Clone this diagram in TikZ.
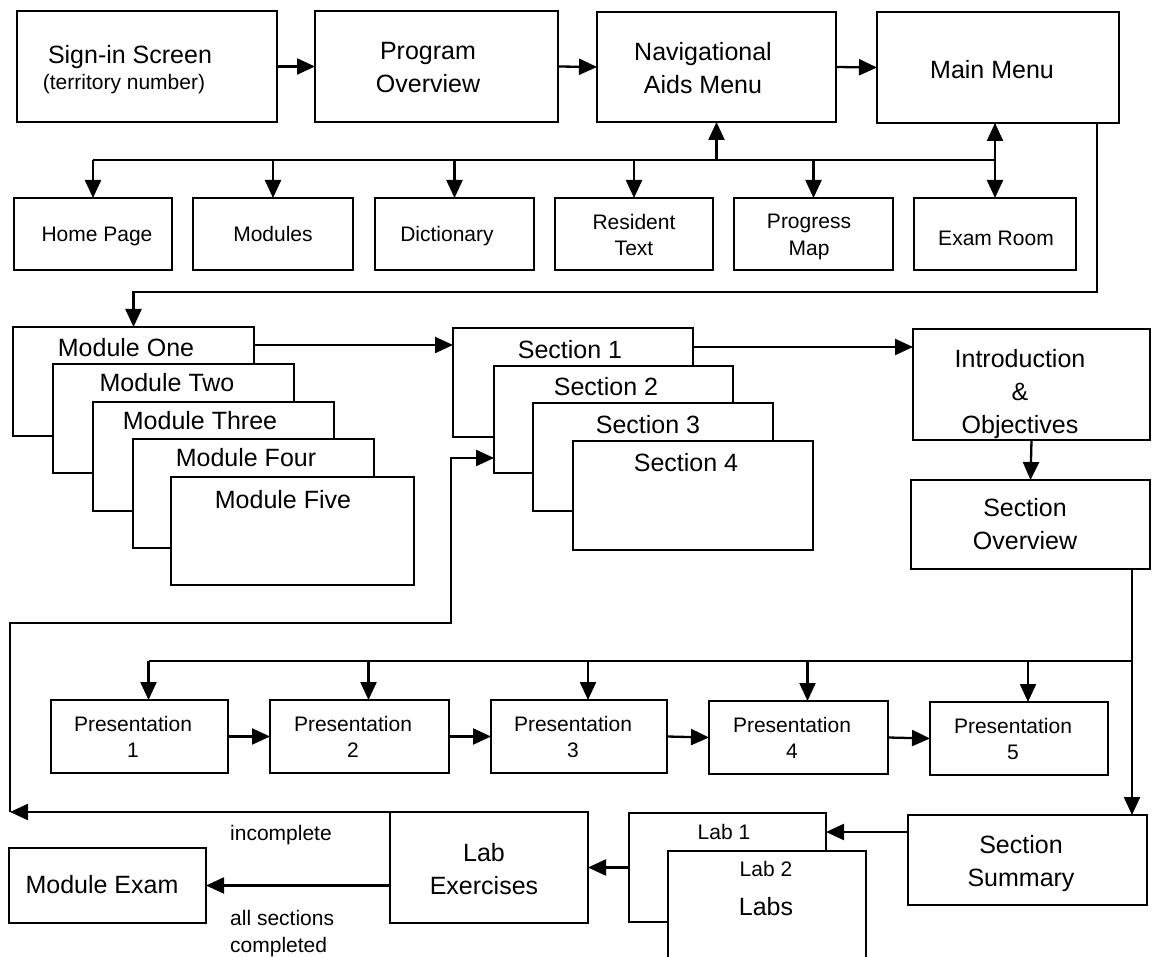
\documentclass[tikz,border=0pt]{standalone}
\usepackage{fontspec}
\setmainfont{Liberation Sans}
\usetikzlibrary{arrows.meta}

\tikzset{
  box/.style={draw, line width=2.3pt, fill=white, inner sep=0pt, outer sep=0pt, anchor=north west},
  big/.style={font=\fontsize{25}{33}\selectfont, align=center, inner sep=0pt},
  small/.style={font=\fontsize{21}{26.5}\selectfont, align=center, inner sep=0pt},
  wire/.style={line width=2.3pt},
  tip/.tip={Triangle[length=18pt,width=16pt]},
  arr/.style={wire, -tip},
  arrboth/.style={wire, tip-tip},
}

% \drawpanel{name}{left}{top}{right}{bottom}
\newcommand\drawpanel[5]{%
  \node[box, minimum width={(#4-#2)*1pt}, minimum height={(#5-#3)*1pt}] (#1) at (#2,#3) {};}

\begin{document}
\begin{tikzpicture}[x=1pt,y=-1pt]
\useasboundingbox (0,0) rectangle (1154,957);
\clip (0,0) rectangle (1154,957);

% ---- start-up screens
\drawpanel{signin}{17}{11}{277}{122}
\node[big, anchor=base] (signinA) at (130,64) {Sign-in Screen};
\node[small, anchor=base] (signinB) at (124,90) {(territory number)};
\drawpanel{progov}{315}{11}{558}{122}
\node[big] (progovT) at (428,68) {Program\\Overview};
\drawpanel{nav}{597}{12}{836}{122}
\node[big] (navT) at (703,68) {Navigational\\Aids Menu};
\drawpanel{mainmenu}{877}{12}{1119}{123}
\node[big] (mainT) at (992,70) {Main Menu};

% ---- navigational aids
\drawpanel{home}{14}{198}{172}{270}
\node[small] (homeT) at (97,236) {Home Page};
\drawpanel{modules}{193}{198}{353}{270}
\node[small] (modulesT) at (273,234) {Modules};
\drawpanel{dict}{375}{198}{534}{270}
\node[small] (dictT) at (447,236) {Dictionary};
\drawpanel{resident}{555}{198}{713}{270}
\node[small] (residentT) at (634,235) {Resident\\Text};
\drawpanel{progress}{734}{198}{893}{270}
\node[small] (progressT) at (809,237) {Progress\\Map};
\drawpanel{exam}{914}{198}{1076}{270}
\node[small] (examT) at (996,238) {Exam Room};

% ---- module stack
\drawpanel{modA}{13}{327}{254}{436}
\node[big] (modAT) at (126,348) {Module One};
\drawpanel{modB}{53}{364}{294}{473}
\node[big] (modBT) at (167,383) {Module Two};
\drawpanel{modC}{93}{402}{334}{511}
\node[big] (modCT) at (200,421) {Module Three};
\drawpanel{modD}{133}{439}{374}{548}
\node[big] (modDT) at (246,458) {Module Four};
\drawpanel{modE}{171}{477}{414}{585}
\node[big] (modET) at (283,500) {Module Five};

% ---- section stack
\drawpanel{secA}{453}{328}{693}{437}
\node[big] (secAT) at (570,350) {Section 1};
\drawpanel{secB}{494}{366}{733}{473}
\node[big] (secBT) at (606,387) {Section 2};
\drawpanel{secC}{533}{403}{773}{511}
\node[big] (secCT) at (648,425) {Section 3};
\drawpanel{secD}{573}{441}{813}{550}
\node[big] (secDT) at (686,463) {Section 4};

% ---- section flow
\drawpanel{intro}{913}{329}{1150}{440}
\node[big] (introT) at (1020,394) {Introduction\\\&\\Objectives};
\drawpanel{secov}{911}{480}{1150}{569}
\node[big] (secovT) at (1025,524.5) {Section\\Overview};

\drawpanel{p1}{51}{700}{228}{773}
\node[small] (p1T) at (133,737) {Presentation\\1};
\drawpanel{p2}{270}{700}{449}{773}
\node[small] (p2T) at (353,737) {Presentation\\2};
\drawpanel{p3}{491}{700}{667}{773}
\node[small] (p3T) at (573,737) {Presentation\\3};
\drawpanel{p4}{709}{701}{888}{774}
\node[small] (p4T) at (792,738) {Presentation\\4};
\drawpanel{p5}{930}{702}{1108}{775}
\node[small] (p5T) at (1013,739) {Presentation\\5};

\drawpanel{summ}{908}{815}{1147}{905}
\node[big] (summT) at (1021,863.5) {Section\\Summary};
\drawpanel{lab1}{629}{813}{826}{922}
\node[small] (lab1T) at (724,832) {Lab 1};
\drawpanel{lab2}{668}{851}{866}{990}
\node[small] (lab2T) at (766,869) {Lab 2};
\node[big] (labsT) at (766,907) {Labs};
\drawpanel{labex}{390}{812}{588}{923}
\node[big] (labexT) at (484,869) {Lab\\Exercises};
\drawpanel{modexam}{9}{848}{206}{923}
\node[big] (modexamT) at (102,885) {Module Exam};

\node[small, anchor=west] (incompl) at (230,835) {incomplete};
\node[small, anchor=west, align=left] (allsec) at (230,933.5) {all sections\\completed};

% ---- connectors: top row
\draw[arr] (signin.east) -- (progov.west);
\draw[arr] (progov.east) -- (nav.west);
\draw[arr] (nav.east) -- (mainmenu.west);

\coordinate (navbus) at (0,160);
\draw[wire] (home.north |- navbus) -- (exam.north |- navbus);
\foreach \n in {home,modules,dict,resident,progress}
  \draw[arr] (\n.north |- navbus) -- (\n.north);
\draw[arr] (nav.south |- navbus) -- (nav.south);
\draw[arrboth] (exam.north) -- (exam.north |- mainmenu.south);

% main menu down to the modules
\coordinate (modloop) at (0,292);
\draw[arr] ([xshift=-22pt]mainmenu.south east) |- (modA.north |- modloop) -- (modA.north);

\draw[arr] ([yshift=-18pt]modA.north east) -- ([yshift=-18pt]modA.north east -| secA.west);
\draw[arr] ([yshift=-19pt]secA.north east) -- ([yshift=-19pt]secA.north east -| intro.west);
\draw[arr] (intro.south) -- (secov.north);

% section overview down to the summary, with the presentation bus
\draw[arr] ([xshift=-18pt]secov.south east) -- ([xshift=-18pt]secov.south east |- summ.north);
\coordinate (presbus) at (0,661);
\draw[wire] ([xshift=-18pt]secov.south east |- presbus) -- ([xshift=9pt]p1.north |- presbus);
\foreach \p in {p1,p2,p3,p4,p5}
  \draw[arr] ([xshift=9pt]\p.north |- presbus) -- ([xshift=9pt]\p.north);
\draw[arr] (p1.east) -- (p2.west);
\draw[arr] (p2.east) -- (p3.west);
\draw[arr] (p3.east) -- (p4.west);
\draw[arr] (p4.east) -- (p5.west);

% summary, labs, exam
\draw[arr] ([yshift=-17pt]summ.north west) -- ([yshift=-17pt]summ.north west -| lab1.east);
\draw[arr] (lab1.west) -- (labex.east);
\draw[arr] (labex.west |- modexam.east) -- (modexam.east);

% return path to the next section
\coordinate (retcorner) at (10,623);
\coordinate (retrise) at (451,623);
\draw[arr] (labex.north west) -- (labex.north west -| retcorner);
\draw[arr] (labex.north west -| retcorner) -- (retcorner) -- (retrise) |- ([yshift=15pt]secB.south west);
\end{tikzpicture}
\end{document}
